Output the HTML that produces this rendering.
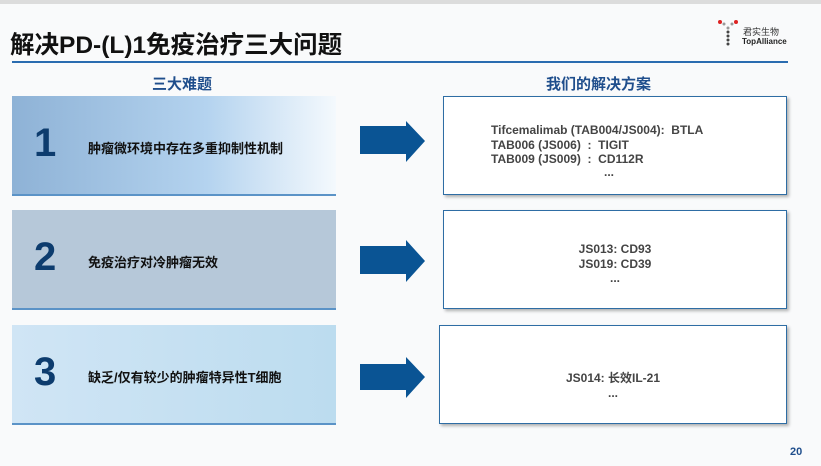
<!DOCTYPE html>
<html><head><meta charset="utf-8"><style>
body{margin:0;width:821px;height:466px;background:#f9fafb;position:relative;overflow:hidden;font-family:"Liberation Sans","Noto Sans CJK SC",sans-serif}
.a{position:absolute}
.t{font-weight:bold}
.lb{position:absolute;left:12px;width:324px;height:100px;border-bottom:2px solid #5b93c7;box-sizing:border-box}
.n{position:absolute;left:22px;font-size:40px;font-weight:bold;color:#0d3c6e;top:25px}
.lt{position:absolute;left:76px;font-size:13px;font-weight:bold;color:#111;top:42px}
.rb{position:absolute;left:443px;width:344px;height:99px;background:#fff;border:1.5px solid #2e6da4;box-sizing:border-box;box-shadow:2px 2px 3px rgba(0,0,0,.3);font-size:12px;font-weight:bold;color:#444;line-height:14.5px}
.h{position:absolute;font-size:15px;font-weight:bold;color:#1f4e8c;top:73px}
</style></head><body>
<div class="a" style="left:0;top:0;width:821px;height:4px;background:#dcdcdc"></div>
<div class="a t" style="left:10px;top:26px;font-size:24.5px;color:#111">解决PD-(L)1免疫治疗三大问题</div>
<div class="a" style="left:12px;top:61px;width:776px;height:2px;background:#2a6cb0"></div>
<div class="a" style="left:716px;top:18px;width:24px;height:30px">
<svg width="24" height="30"><g fill="#999"><circle cx="4" cy="4" r="2" fill="#d22"/><circle cx="20" cy="4" r="2" fill="#d22"/><circle cx="8" cy="6" r="1.5"/><circle cx="16" cy="6" r="1.5"/><circle cx="12" cy="10" r="1.5"/><circle cx="12" cy="14" r="1.5" fill="#444"/><circle cx="12" cy="18" r="1.5" fill="#444"/><circle cx="12" cy="22" r="1.5" fill="#444"/><circle cx="12" cy="26" r="1.5" fill="#444"/></g></svg></div>
<div class="a" style="left:743px;top:25px;font-size:9px;color:#333">君实生物</div>
<div class="a t" style="left:742px;top:37px;font-size:8px;color:#222">TopAlliance</div>
<div class="h" style="left:152px">三大难题</div>
<div class="h" style="left:546px">我们的解决方案</div>

<div class="lb" style="top:96px;background:linear-gradient(90deg,#8eb2d6,#b4d3ef 60%,#f4f9fd)"><div class="n">1</div><div class="lt">肿瘤微环境中存在多重抑制性机制</div></div>
<div class="lb" style="top:210px;background:#b6c8d9"><div class="n">2</div><div class="lt">免疫治疗对冷肿瘤无效</div></div>
<div class="lb" style="top:325px;background:linear-gradient(90deg,#d0e5f5,#bcdcef)"><div class="n">3</div><div class="lt">缺乏/仅有较少的肿瘤特异性T细胞</div></div>

<svg class="a" style="left:0;top:0" width="821" height="466"><g fill="#0a5494">
<polygon points="360,126 406,126 406,121 425,141 406,162 406,154 360,154"/>
<polygon points="360,246 406,246 406,240 425,261 406,282 406,274 360,274"/>
<polygon points="360,364 406,364 406,357 425,377 406,398 406,390 360,390"/></g></svg>

<div class="rb" style="top:96px"><div class="a" style="left:47px;top:26px;white-space:pre">Tifcemalimab (TAB004/JS004):  BTLA
TAB006 (JS006)  :  TIGIT
TAB009 (JS009)  :  CD112R</div><div class="a" style="left:160px;top:68px">...</div></div>
<div class="rb" style="top:210px;text-align:center"><div style="margin-top:31px">JS013: CD93<br>JS019: CD39<br>...</div></div>
<div class="rb" style="top:325px;left:439px;width:348px;text-align:center"><div style="margin-top:45px">JS014: 长效IL-21<br>...</div></div>
<div class="a t" style="left:790px;top:446px;font-size:11px;color:#1f4e8c">20</div>
</body></html>
